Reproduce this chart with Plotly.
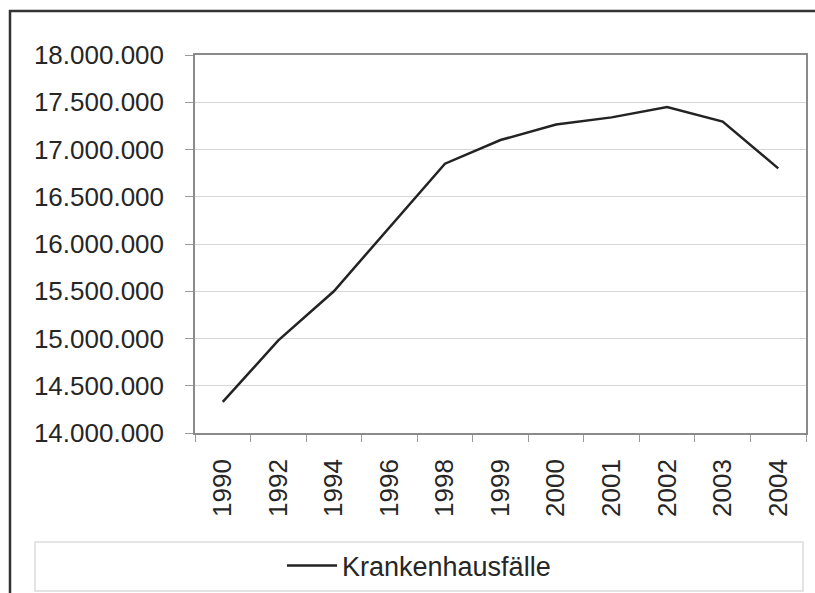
import plotly.graph_objects as go

years = ["1990", "1992", "1994", "1996", "1998", "1999", "2000", "2001", "2002", "2003", "2004"]
faelle = [14330000, 14980000, 15500000, 16170000, 16850000, 17100000, 17265000, 17340000, 17450000, 17295000, 16800000]
y_ticks = [14000000, 14500000, 15000000, 15500000, 16000000, 16500000, 17000000, 17500000, 18000000]
series_name = "Krankenhausfälle"

W, H = 815, 593
L, R, T, B = 195, 9, 55, 160
pw, ph = W - L - R, H - T - B

def px(x):
    return (x - L) / pw

def py(y):
    return (H - B - y) / ph

fig = go.Figure()
fig.add_trace(go.Scatter(
    x=years, y=faelle, mode="lines", name=series_name,
    line=dict(color="#232323", width=2.5),
    showlegend=True,
))

font = dict(family="Liberation Sans, Arial, sans-serif", size=26, color="#262626")
legfont = dict(family="Liberation Sans, Arial, sans-serif", size=27, color="#262626")

fig.update_layout(
    width=W, height=H,
    margin=dict(l=L, r=R, t=T, b=B, pad=0, autoexpand=False),
    paper_bgcolor="white", plot_bgcolor="white",
    separators=",.",
    font=font,
    showlegend=True,
    legend=dict(
        x=px(419), y=py(566), xanchor="center", yanchor="middle",
        orientation="h", bgcolor="rgba(0,0,0,0)", borderwidth=0,
        font=legfont, itemwidth=50,
    ),
    xaxis=dict(
        type="category", tickangle=-90, tickson="boundaries",
        range=[-0.5, len(years) - 0.5],
        ticks="outside", ticklen=7, tickcolor="#9a9a9a", tickwidth=1,
        showline=True, linecolor="#8a8a8a", linewidth=1.5, mirror=True,
        showgrid=False, ticklabelstandoff=14, tickfont=font, automargin=False,
    ),
    yaxis=dict(
        range=[14000000, 18000000], tickvals=y_ticks, tickformat=",d",
        ticks="outside", ticklen=8, tickcolor="#9a9a9a",
        showline=True, linecolor="#8a8a8a", linewidth=1.5, mirror=True,
        showgrid=True, gridcolor="#d6d6d6", gridwidth=1.2,
        tickfont=font, zeroline=False, ticklabelstandoff=16, automargin=False,
    ),
    shapes=[
        dict(type="line", xref="paper", yref="paper",
             x0=px(9), x1=px(815), y0=py(11), y1=py(11),
             line=dict(color="#333333", width=2.5), layer="below"),
        dict(type="line", xref="paper", yref="paper",
             x0=px(10), x1=px(10), y0=py(10), y1=py(593),
             line=dict(color="#333333", width=2.5), layer="below"),
        dict(type="rect", xref="paper", yref="paper",
             x0=px(35), x1=px(803), y0=py(591), y1=py(542),
             line=dict(color="#dcdcdc", width=1.5), fillcolor="rgba(0,0,0,0)", layer="below"),
    ],
)

fig.write_html("out.html", config={"displayModeBar": False},
               post_script="document.body.style.margin='0';document.body.style.overflow='hidden';")
